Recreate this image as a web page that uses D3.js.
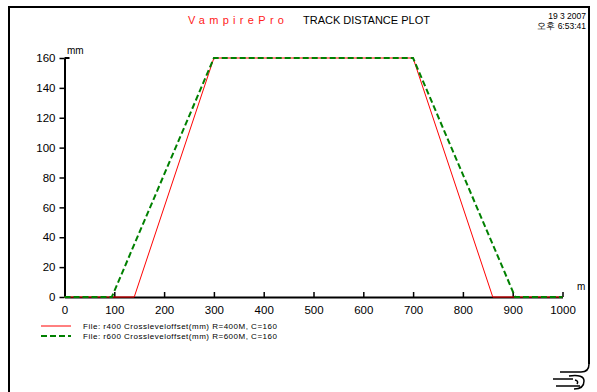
<!DOCTYPE html>
<html>
<head>
<meta charset="utf-8">
<script src="https://cdn.jsdelivr.net/npm/d3@7"></script>
<style>
body { margin: 0; background: #fff; }
text { font-family: "Liberation Sans", Arial, sans-serif; }
</style>
</head>
<body>
<div id="chart-area"></div>
<script>
// Track distance plot - crosslevel offset

var width = 597;
var height = 392;

var xTicks = [0, 100, 200, 300, 400, 500, 600, 700, 800, 900, 1000];
var yTicks = [0, 20, 40, 60, 80, 100, 120, 140, 160];

var r400Dist = [0, 140, 300, 700, 860, 1000];
var r400Offset = [0, 0, 160, 160, 0, 0];

var r600Dist = [0, 95, 300, 700, 905, 1000];
var r600Offset = [0, 0, 160, 160, 0, 0];

var seriesNames = [
    "File: r400 Crossleveloffset(mm) R=400M, C=160",
    "File: r600 Crossleveloffset(mm) R=600M, C=160"
];

var svg = d3.select("#chart-area")
    .append("svg")
    .attr("width", width)
    .attr("height", height);

var x = d3.scaleLinear().domain([0, 1000]).range([64.5, 562.5]);
var y = d3.scaleLinear().domain([0, 160]).range([297, 58]);

// frame
svg.append("path")
    .attr("d", "M9,392 L9,7 L589,7 L589,364")
    .attr("fill", "none")
    .attr("stroke", "#000")
    .attr("stroke-width", 2);

// little logo bottom right
var logo = svg.append("g")
    .attr("fill", "none")
    .attr("stroke", "#000")
    .attr("stroke-width", 1.5);
logo.append("path").attr("d", "M589,364 Q589,372 581,372 L560,372");
logo.append("path").attr("d", "M553,379 L573,379");
logo.append("path").attr("d", "M556,386 L580,386");
logo.append("path").attr("d", "M569,376 Q584,374 584,381 Q584,389 574,389");
logo.append("path").attr("d", "M575,380 Q579,381 577,384");

// title
svg.append("text")
    .attr("x", 188)
    .attr("y", 24)
    .attr("font-size", 11)
    .attr("letter-spacing", 4.3)
    .attr("fill", "#ff2020")
    .text("VampirePro");

svg.append("text")
    .attr("x", 303)
    .attr("y", 24)
    .attr("font-size", 11)
    .attr("fill", "#000")
    .text("TRACK DISTANCE PLOT");

svg.append("text")
    .attr("x", 586)
    .attr("y", 19)
    .attr("text-anchor", "end")
    .attr("font-size", 8.5)
    .text("19 3 2007");

svg.append("text")
    .attr("x", 586)
    .attr("y", 29)
    .attr("text-anchor", "end")
    .attr("font-size", 8.5)
    .text("오후 6:53:41");

// axes
var xAxis = svg.append("g")
    .attr("transform", "translate(0," + y(0) + ")")
    .call(d3.axisBottom(x).tickValues(xTicks).tickFormat(d3.format("d"))
        .tickSizeInner(-5).tickSizeOuter(0).tickPadding(9));

var yAxis = svg.append("g")
    .attr("transform", "translate(" + x(0) + ",0)")
    .call(d3.axisLeft(y).tickValues(yTicks).tickSizeInner(5).tickSizeOuter(0).tickPadding(4));

svg.selectAll(".domain")
    .attr("stroke", "#000")
    .attr("stroke-width", 2);
svg.selectAll(".tick line")
    .attr("stroke", "#000")
    .attr("stroke-width", 1.5);
svg.selectAll(".tick text")
    .attr("font-family", "Liberation Sans, Arial, sans-serif")
    .attr("font-size", 11.5)
    .attr("fill", "#000");

// top end tick of y axis
svg.append("line")
    .attr("x1", x(0))
    .attr("x2", x(0) + 5)
    .attr("y1", y(160))
    .attr("y2", y(160))
    .attr("stroke", "#000")
    .attr("stroke-width", 2);

svg.append("text")
    .attr("x", 67)
    .attr("y", 54)
    .attr("font-size", 10)
    .text("mm");

svg.append("text")
    .attr("x", 577)
    .attr("y", 290)
    .attr("font-size", 10)
    .text("m");

// series
var line = d3.line()
    .x(function(d) { return x(d[0]); })
    .y(function(d) { return y(d[1]); });

var r400 = r400Dist.map(function(d, i) { return [d, r400Offset[i]]; });
var r600 = r600Dist.map(function(d, i) { return [d, r600Offset[i]]; });

svg.append("path")
    .datum(r400)
    .attr("d", line)
    .attr("fill", "none")
    .attr("stroke", "#ff0000")
    .attr("stroke-width", 1);

svg.append("path")
    .datum(r600)
    .attr("d", line)
    .attr("fill", "none")
    .attr("stroke", "#008000")
    .attr("stroke-width", 2)
    .attr("stroke-dasharray", "6,3");

// legend
var legendStyles = [
    { color: "#ff0000", width: 1, dash: null },
    { color: "#008000", width: 2, dash: "6,3" }
];

var legend = svg.selectAll(".legend")
    .data(seriesNames)
    .enter()
    .append("g")
    .attr("class", "legend")
    .attr("transform", function(d, i) {
        return "translate(0," + (326 + i * 10) + ")";
    });

legend.append("line")
    .attr("x1", 41)
    .attr("x2", 71)
    .attr("stroke", function(d, i) { return legendStyles[i].color; })
    .attr("stroke-width", function(d, i) { return legendStyles[i].width; })
    .attr("stroke-dasharray", function(d, i) { return legendStyles[i].dash; });

legend.append("text")
    .attr("x", 83)
    .attr("y", 3)
    .attr("font-size", 8)
    .attr("letter-spacing", 0.5)
    .text(function(d) { return d; });
</script>
</body>
</html>
